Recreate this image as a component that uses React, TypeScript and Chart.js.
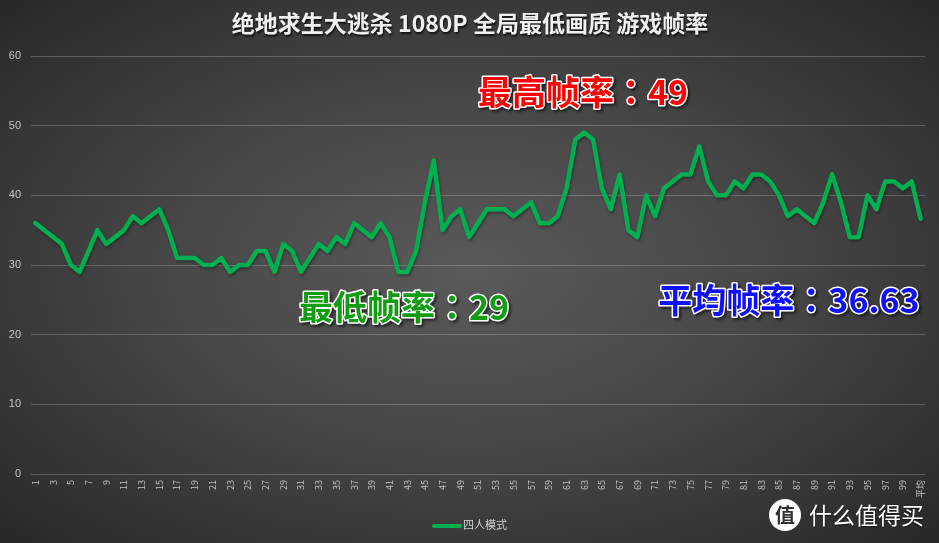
import React, { useEffect, useRef } from "react";
import { Chart, registerables } from "chart.js";

Chart.register(...registerables);

const categories = [
  "1", "2", "3", "4", "5", "6", "7", "8", "9", "10",
  "11", "12", "13", "14", "15", "16", "17", "18", "19", "20",
  "21", "22", "23", "24", "25", "26", "27", "28", "29", "30",
  "31", "32", "33", "34", "35", "36", "37", "38", "39", "40",
  "41", "42", "43", "44", "45", "46", "47", "48", "49", "50",
  "51", "52", "53", "54", "55", "56", "57", "58", "59", "60",
  "61", "62", "63", "64", "65", "66", "67", "68", "69", "70",
  "71", "72", "73", "74", "75", "76", "77", "78", "79", "80",
  "81", "82", "83", "84", "85", "86", "87", "88", "89", "90",
  "91", "92", "93", "94", "95", "96", "97", "98", "99", "100",
  "平均",
];

const fpsValues = [
  36, 35, 34, 33, 30, 29, 32, 35, 33, 34,
  35, 37, 36, 37, 38, 35, 31, 31, 31, 30,
  30, 31, 29, 30, 30, 32, 32, 29, 33, 32,
  29, 31, 33, 32, 34, 33, 36, 35, 34, 36,
  34, 29, 29, 32, 39, 45, 35, 37, 38, 34,
  36, 38, 38, 38, 37, 38, 39, 36, 36, 37,
  41, 48, 49, 48, 41, 38, 43, 35, 34, 40,
  37, 41, 42, 43, 43, 47, 42, 40, 40, 42,
  41, 43, 43, 42, 40, 37, 38, 37, 36, 39,
  43, 39, 34, 34, 40, 38, 42, 42, 41, 42,
  36.63,
];

const yMin = 0;
const yMax = 60;
const yStep = 10;

const seriesName = "四人模式";
const titleText = "绝地求生大逃杀 1080P 全局最低画质 游戏帧率";
const maxNote = "最高帧率：49";
const minNote = "最低帧率：29";
const avgNote = "平均帧率：36.63";
const watermarkText = "什么值得买";
const watermarkLogo = "值";

const FONT = '"Liberation Sans", "Noto Sans CJK SC", sans-serif';
const CJK = '"Noto Sans CJK SC", sans-serif';
const NOTE_FONT = '"Noto Sans CJK TC", "Noto Sans CJK SC", sans-serif';
const LINE_COLOR = "#00b050";

const overlayPlugin = {
  id: "overlay",
  beforeDatasetDraw(chart: any) {
    const ctx = chart.ctx;
    ctx.save();
    ctx.shadowColor = "rgba(0,0,0,0.35)";
    ctx.shadowBlur = 3;
    ctx.shadowOffsetX = 1;
    ctx.shadowOffsetY = 2;
  },
  afterDatasetDraw(chart: any) {
    chart.ctx.restore();
  },
  afterDraw(chart: any) {
    const ctx = chart.ctx;

    // Title
    ctx.save();
    ctx.font = `bold 23px ${CJK}`;
    ctx.textAlign = "center";
    ctx.textBaseline = "middle";
    ctx.shadowColor = "rgba(0,0,0,0.7)";
    ctx.shadowBlur = 2;
    ctx.shadowOffsetX = 1;
    ctx.shadowOffsetY = 2;
    ctx.fillStyle = "#f0f0f0";
    ctx.fillText(titleText, 470, 23);
    ctx.restore();

    // Annotations
    const notes: [string, string, number, number][] = [
      [maxNote, "#ff0000", 583, 92],
      [minNote, "#129c12", 404, 307],
      [avgNote, "#1010ff", 789, 300],
    ];
    notes.forEach(([text, color, x, y]) => {
      ctx.save();
      ctx.font = `bold 34px ${NOTE_FONT}`;
      ctx.textAlign = "center";
      ctx.textBaseline = "middle";
      ctx.lineJoin = "round";
      ctx.shadowColor = "rgba(0,0,0,0.6)";
      ctx.shadowBlur = 3;
      ctx.shadowOffsetX = 2;
      ctx.shadowOffsetY = 2;
      ctx.strokeStyle = "#ffffff";
      ctx.lineWidth = 3;
      ctx.strokeText(text, x, y);
      ctx.shadowColor = "transparent";
      ctx.fillStyle = color;
      ctx.fillText(text, x, y);
      ctx.restore();
    });

    // Legend
    ctx.save();
    ctx.strokeStyle = LINE_COLOR;
    ctx.lineWidth = 4;
    ctx.lineCap = "round";
    ctx.beginPath();
    ctx.moveTo(434, 526);
    ctx.lineTo(460, 526);
    ctx.stroke();
    ctx.font = `11px ${CJK}`;
    ctx.fillStyle = "#d0d0d0";
    ctx.textAlign = "left";
    ctx.textBaseline = "middle";
    ctx.fillText(seriesName, 463, 525);
    ctx.restore();

    // Watermark
    ctx.save();
    ctx.fillStyle = "#ffffff";
    ctx.beginPath();
    ctx.arc(785, 515, 16, 0, Math.PI * 2);
    ctx.fill();
    ctx.font = `bold 20px ${CJK}`;
    ctx.textAlign = "center";
    ctx.textBaseline = "middle";
    ctx.fillStyle = "#333333";
    ctx.fillText(watermarkLogo, 785, 515);
    ctx.font = `23px ${CJK}`;
    ctx.textAlign = "left";
    ctx.fillStyle = "#ffffff";
    ctx.shadowColor = "rgba(0,0,0,0.6)";
    ctx.shadowBlur = 2;
    ctx.shadowOffsetY = 1;
    ctx.fillText(watermarkText, 809, 515);
    ctx.restore();
  },
};

export default function App() {
  const canvasRef = useRef<HTMLCanvasElement | null>(null);

  useEffect(() => {
    document.body.style.margin = "0";
    const canvas = canvasRef.current;
    if (!canvas) return;
    const chart = new Chart(canvas, {
      type: "line",
      data: {
        labels: categories,
        datasets: [
          {
            label: seriesName,
            data: fpsValues,
            borderColor: LINE_COLOR,
            backgroundColor: LINE_COLOR,
            borderWidth: 4.5,
            borderJoinStyle: "round",
            borderCapStyle: "round",
            pointRadius: 0,
            pointHoverRadius: 0,
            tension: 0,
            fill: false,
          },
        ],
      },
      options: {
        animation: false,
        responsive: true,
        maintainAspectRatio: false,
        layout: { padding: { top: 56, right: 14, bottom: 0, left: 0 } },
        plugins: {
          legend: { display: false },
          title: { display: false },
          tooltip: { enabled: false },
        },
        scales: {
          x: {
            offset: true,
            grid: { display: false, drawTicks: false },
            border: { display: false },
            ticks: {
              autoSkip: false,
              minRotation: 90,
              maxRotation: 90,
              padding: 6,
              color: "#c4c4c4",
              font: { size: 9, family: CJK },
              callback: function (this: any, val: any, idx: number) {
                return idx % 2 === 0 ? this.getLabelForValue(val) : "";
              },
            },
            afterFit: (scale: any) => {
              scale.height = 69;
            },
          },
          y: {
            min: yMin,
            max: yMax,
            grid: {
              color: "rgba(255,255,255,0.2)",
              lineWidth: 1,
              drawTicks: false,
            },
            border: { display: false },
            ticks: {
              stepSize: yStep,
              padding: 10,
              color: "#c4c4c4",
              font: { size: 11, family: FONT },
            },
            afterFit: (scale: any) => {
              scale.width = 31;
            },
          },
        },
      },
      plugins: [overlayPlugin],
    });
    return () => chart.destroy();
  }, []);

  return (
    <div
      style={{
        position: "fixed",
        left: 0,
        top: 0,
        width: 939,
        height: 543,
        background:
          "radial-gradient(ellipse farthest-corner at 50% 50%, #5a5a5a 0%, #474747 45%, #282828 100%)",
      }}
    >
      <canvas ref={canvasRef} />
    </div>
  );
}
